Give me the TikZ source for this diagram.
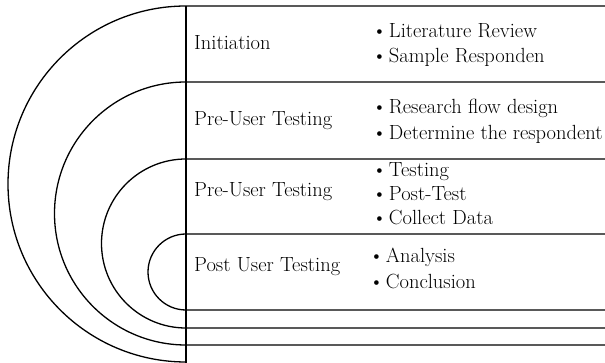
\documentclass[tikz,border=0pt]{standalone}
\usepackage{tikz}

\newcommand{\itm}{\textbullet\hspace{2pt}}

\begin{document}
\begin{tikzpicture}[x=1pt, y=1pt,
  stage/.style={anchor=base west, inner sep=0pt, font=\fontsize{20.5}{24}\selectfont},
  task/.style={anchor=base west, inner sep=0pt, font=\fontsize{20.5}{24}\selectfont},
  ring/.style={line width=1.3pt}]
\useasboundingbox (0,0) rectangle (605,363);

% nested half rings
\draw[ring] (605,357) -- (186,357) arc (90:270:178);
\draw[ring] (605,281) -- (186,281) arc (90:270:131.5) -- (605,18);
\draw[ring] (605,204) -- (186,204) arc (90:270:84.5) -- (605,35);
\draw[ring] (605,129) -- (186,129) arc (90:270:38) -- (605,53);

% divider
\draw[line width=1.9pt] (186,357) -- (186,0);

% stages
\node[stage] (initiation) at (194,313) {Initiation};
\node[stage] (preuser) at (194,237) {Pre-User Testing};
\node[stage] (usertest) at (194,166) {Pre-User Testing};
\node[stage] (postuser) at (194,91) {Post User Testing};

% activities
\node[task] (init1) at (372,325.5) {\itm Literature Review};
\node[task] (init2) at (372,300) {\itm Sample Responden};
\node[task] (pre1) at (372,249.5) {\itm Research flow design};
\node[task] (pre2) at (372,223.5) {\itm Determine the respondent};
\node[task] (test1) at (372,186.5) {\itm Testing};
\node[task] (test2) at (372,162.5) {\itm Post-Test};
\node[task] (test3) at (372,138) {\itm Collect Data};
\node[task] (post1) at (369,100) {\itm Analysis};
\node[task] (post2) at (369,74) {\itm Conclusion};
\end{tikzpicture}
\end{document}
